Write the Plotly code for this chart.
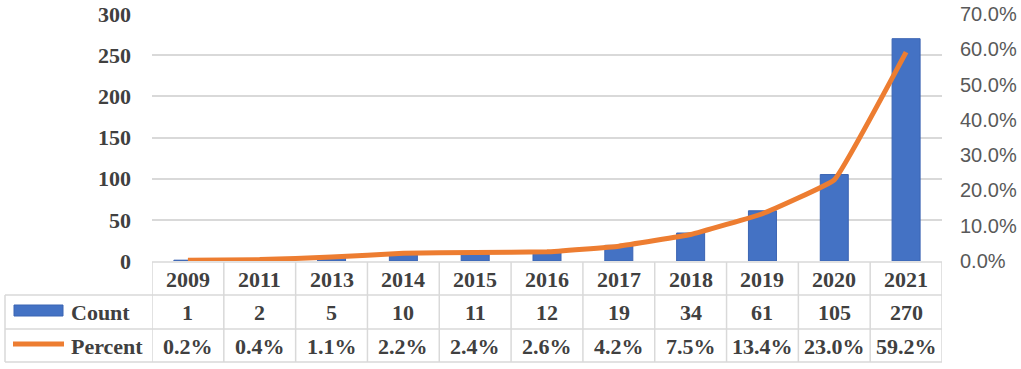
import plotly.graph_objects as go

years = ["2009", "2011", "2013", "2014", "2015", "2016", "2017", "2018", "2019", "2020", "2021"]
counts = [1, 2, 5, 10, 11, 12, 19, 34, 61, 105, 270]
percents = [0.2, 0.4, 1.1, 2.2, 2.4, 2.6, 4.2, 7.5, 13.4, 23.0, 59.2]
count_ticks = [0, 50, 100, 150, 200, 250, 300]

BLUE = "#4472C4"
ORANGE = "#ED7D31"
GRID = "#D9D9D9"
TXT = "#404040"
SERIF = "Liberation Serif, Times New Roman, serif"
SANS = "Liberation Sans, Arial, sans-serif"

W, H = 1021, 369
L, R, T, B = 152, 79, 14, 108
pw, ph = W - L - R, H - T - B

def py(y):  # pixel y -> paper y
    return (H - B - y) / ph

def px(x):  # pixel x -> paper x
    return (x - L) / pw

fig = go.Figure()
fig.add_trace(go.Bar(x=years, y=counts, name="Count", marker=dict(color=BLUE, line=dict(color="#3B64B3", width=1)),
                     yaxis="y"))
fig.add_trace(go.Scatter(x=years, y=[p / 100 for p in percents], name="Percent", mode="lines",
                         line=dict(color=ORANGE, width=5, shape="spline", smoothing=0.25), yaxis="y2"))

shapes = []
ann = []
row_lines = [py(262), py(295), py(329), py(362)]
row_centers = [py(279), py(312), py(346)]
for i, yl in enumerate(row_lines):
    shapes.append(dict(type="line", xref="x", yref="paper", x0=-0.5, x1=len(years) - 0.5,
                       y0=yl, y1=yl, line=dict(color=GRID, width=1.5)))
    if i >= 1:
        shapes.append(dict(type="line", xref="paper", yref="paper", x0=px(5), x1=0,
                           y0=yl, y1=yl, line=dict(color=GRID, width=1.5)))
for k in range(len(years) + 1):
    shapes.append(dict(type="line", xref="x", yref="paper", x0=k - 0.5, x1=k - 0.5,
                       y0=row_lines[0], y1=row_lines[3], line=dict(color=GRID, width=1.5)))
shapes.append(dict(type="line", xref="paper", yref="paper", x0=px(5), x1=px(5),
                   y0=row_lines[1], y1=row_lines[3], line=dict(color=GRID, width=1.5)))
shapes.append(dict(type="rect", xref="paper", yref="paper", x0=px(14), x1=px(63),
                   y0=py(316), y1=py(305), fillcolor=BLUE, line=dict(color="#3B64B3", width=1)))
shapes.append(dict(type="line", xref="paper", yref="paper", x0=px(13), x1=px(64),
                   y0=py(344), y1=py(344), line=dict(color=ORANGE, width=5)))

tfont = dict(family=SERIF, size=22, color=TXT, weight="bold")
for i, yr in enumerate(years):
    ann.append(dict(x=i, y=row_centers[0], xref="x", yref="paper", text=yr, showarrow=False,
                    yanchor="middle", font=tfont))
    ann.append(dict(x=i, y=row_centers[1], xref="x", yref="paper", text=str(counts[i]), showarrow=False,
                    yanchor="middle", font=tfont))
    ann.append(dict(x=i, y=row_centers[2], xref="x", yref="paper", text=f"{percents[i]:.1f}%", showarrow=False,
                    yanchor="middle", font=tfont))
ann.append(dict(x=px(69), y=row_centers[1], xref="paper", yref="paper", text="Count", showarrow=False,
                xanchor="left", yanchor="middle", font=tfont))
ann.append(dict(x=px(69), y=row_centers[2], xref="paper", yref="paper", text="Percent", showarrow=False,
                xanchor="left", yanchor="middle", font=tfont))

fig.update_layout(
    width=W, height=H,
    margin=dict(l=L, r=R, t=T, b=B),
    paper_bgcolor="white", plot_bgcolor="white",
    showlegend=False,
    bargap=0.61,
    xaxis=dict(type="category", range=[-0.5, len(years) - 0.5], showticklabels=False, showgrid=False,
               zeroline=False, showline=False, ticks="", automargin=False),
    yaxis=dict(range=[0, 300], tickvals=count_ticks, showgrid=True, gridcolor=GRID, gridwidth=1.5,
               zeroline=False, showline=False, ticks="", ticklabelstandoff=20, automargin=False,
               tickfont=dict(family=SERIF, size=22, color=TXT, weight="bold")),
    yaxis2=dict(range=[0, 0.7], dtick=0.1, tickformat=".1%", overlaying="y", side="right",
                showgrid=False, zeroline=False, showline=False, ticks="", ticklabelstandoff=17,
                automargin=False, tickfont=dict(family=SANS, size=20, color="#595959")),
    shapes=shapes, annotations=ann,
)

fig.write_html("out.html", config={"displayModeBar": False},
               post_script="document.body.style.margin='0';")
